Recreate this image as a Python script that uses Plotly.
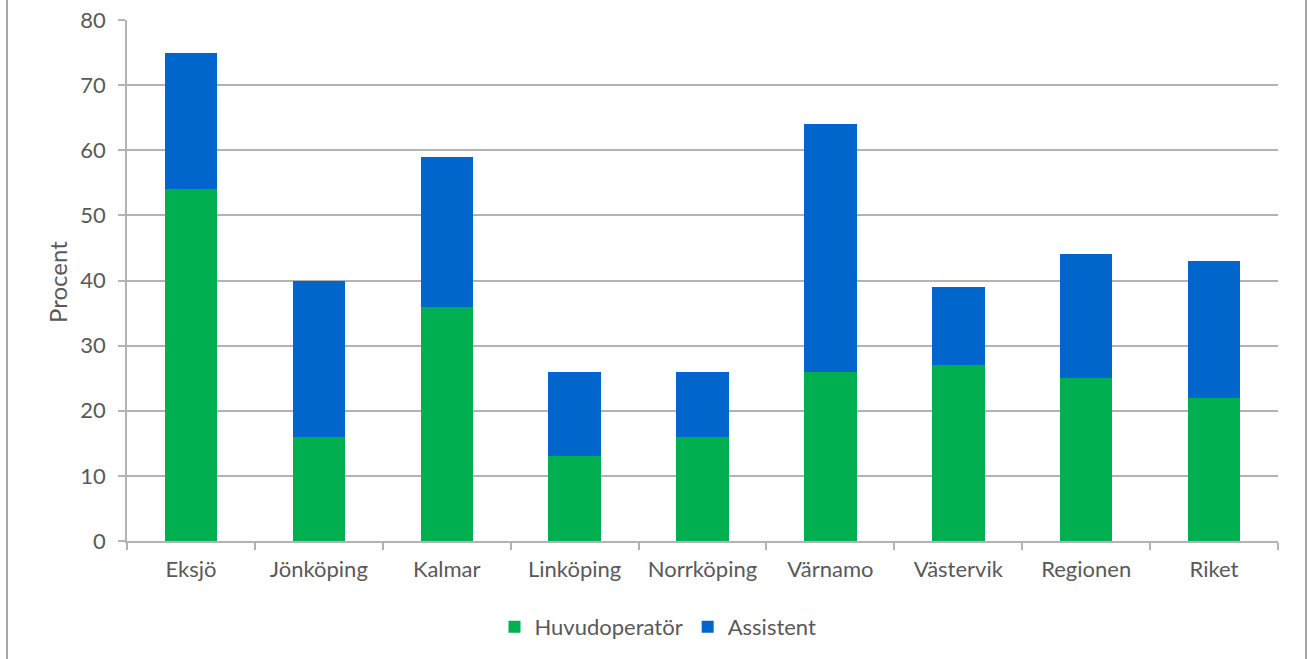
import plotly.graph_objects as go

categories = ["Eksjö", "Jönköping", "Kalmar", "Linköping", "Norrköping",
              "Värnamo", "Västervik", "Regionen", "Riket"]
huvudoperator = [54, 16, 36, 13, 16, 26, 27, 25, 22]
assistent = [21, 24, 23, 13, 10, 38, 12, 19, 21]
y_ticks = [0, 10, 20, 30, 40, 50, 60, 70, 80]

FONT = "Lato, 'Open Sans', sans-serif"
TEXT = "#595959"
GRID = "#B3B3B3"

fig = go.Figure()
fig.add_trace(go.Bar(name="Huvudoperatör", x=categories, y=huvudoperator,
                     marker=dict(color="#00B050", line=dict(width=0))))
fig.add_trace(go.Bar(name="Assistent", x=categories, y=assistent,
                     marker=dict(color="#0066CC", line=dict(width=0))))

W, H = 1308, 659
L, R, T, B = 127, 30, 20, 118
pw, ph = W - L - R, H - T - B

def px_x(p):
    return (p - L) / pw

def px_y(p):
    return (H - B - p) / ph

fig.update_layout(
    barmode="stack",
    bargap=0.59,
    width=W, height=H,
    margin=dict(l=L, r=R, t=T, b=B, autoexpand=False),
    paper_bgcolor="white",
    plot_bgcolor="white",
    font=dict(family=FONT, size=22, color=TEXT),
    showlegend=True,
    legend=dict(orientation="h", x=px_x(658), xanchor="center",
                y=px_y(627), yanchor="middle", traceorder="normal",
                font=dict(family=FONT, size=22, color=TEXT),
                itemwidth=30, tracegroupgap=0),
    xaxis=dict(type="category", showgrid=False, showline=True, automargin=False,
               linecolor=GRID, linewidth=1.5,
               ticks="outside", tickson="boundaries", ticklen=7,
               tickcolor=GRID, tickwidth=1.5, ticklabelstandoff=8,
               tickfont=dict(family=FONT, size=22, color=TEXT)),
    yaxis=dict(range=[0, 80], tickvals=y_ticks, showgrid=True, automargin=False,
               gridcolor=GRID, gridwidth=1.5, zeroline=False,
               showline=True, linecolor=GRID, linewidth=1.5,
               ticks="outside", ticklen=7, tickcolor=GRID, tickwidth=1.5,
               ticklabelstandoff=8,
               tickfont=dict(family=FONT, size=22, color=TEXT)),
    annotations=[dict(text="Procent", textangle=-90, xref="paper", yref="paper",
                      x=px_x(57), y=px_y(282), xanchor="center", yanchor="middle",
                      showarrow=False,
                      font=dict(family=FONT, size=24, color=TEXT))],
    shapes=[
        dict(type="line", xref="paper", yref="paper",
             x0=px_x(7), x1=px_x(7), y0=px_y(-2), y1=px_y(H + 2),
             line=dict(color="#A6A6A6", width=2)),
        dict(type="line", xref="paper", yref="paper",
             x0=px_x(1306), x1=px_x(1306), y0=px_y(-2), y1=px_y(H + 2),
             line=dict(color="#A6A6A6", width=2)),
    ],
)

fig.write_html("out.html")
